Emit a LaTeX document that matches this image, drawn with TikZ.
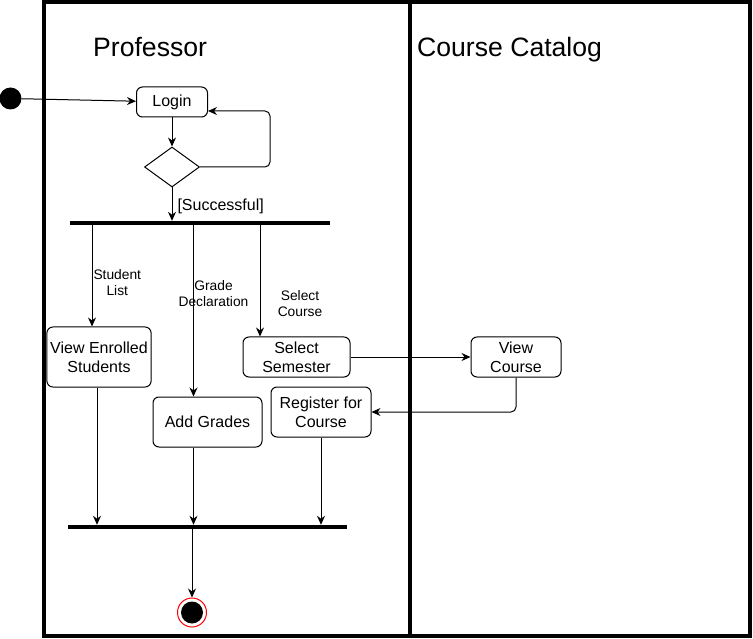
\documentclass[tikz,border=0pt]{standalone}
\usepackage{fontspec}
\setmainfont{Liberation Sans}
\usetikzlibrary{shapes.geometric, arrows.meta, positioning}
\tikzstyle{lane} = [rectangle, draw=black, line width=3.5pt, inner sep=0pt, minimum height=634pt]
\tikzstyle{lanetitle} = [anchor=base west, inner sep=0pt, font=\fontsize{26.6}{32}\selectfont]
\tikzstyle{process} = [rectangle, rounded corners=6pt, draw=black, fill=white, line width=1pt, text centered, align=center, font=\fontsize{16}{19}\selectfont]
\tikzstyle{decision} = [diamond, draw=black, fill=white, line width=1pt, minimum width=55pt, minimum height=40pt, inner sep=0pt]
\tikzstyle{bar} = [rectangle, fill=black, inner sep=0pt, minimum height=4pt]
\tikzstyle{startdot} = [circle, fill=black, minimum size=22pt, inner sep=0pt]
\tikzstyle{endring} = [circle, draw=red, fill=white, line width=1pt, minimum size=29pt, inner sep=0pt]
\tikzstyle{enddot} = [circle, fill=black, minimum size=22pt, inner sep=0pt]
\tikzstyle{edgelabel} = [align=center, inner sep=0pt, font=\fontsize{13.8}{16}\selectfont]
\tikzstyle{arrow} = [line width=1pt, ->, >={Stealth[length=9pt, width=8pt]}]

\begin{document}
\begin{tikzpicture}[x=1pt, y=-1pt, node distance=65pt]
        \useasboundingbox (0,0) rectangle (753,639);

        % Couloirs
        \node (profLane) [lane, minimum width=366pt] at (227,319) {};
        \node (catalogLane) [lane, minimum width=340pt] at (580,319) {};
        \node (profTitle) [lanetitle] at (93,57) {Professor};
        \node (catalogTitle) [lanetitle] at (417,57) {Course Catalog};

        % Professor
        \node (start) [startdot] at (10.5,98.5) {};
        \node (login) [process, minimum width=71pt, minimum height=30pt] at (172,102) {Login};
        \node (loginCheck) [decision, below of=login] {};
        \node (fork) [bar, minimum width=260pt, below of=loginCheck, xshift=27.5pt, yshift=9pt] {};

        \node (viewEnrolled) [process, minimum width=102pt, minimum height=60pt] at (99,357) {View Enrolled\\Students};
        \node (selectSemester) [process, minimum width=107pt, minimum height=40pt] at (296.5,357) {Select\\Semester};
        \node (addGrades) [process, minimum width=109pt, minimum height=50pt] at (207.5,422) {Add Grades};
        \node (register) [process, minimum width=100pt, minimum height=50pt] at (321,412) {Register for\\Course};

        \node (join) [bar, minimum width=279pt] at (207.5,527) {};
        \node (endRing) [endring] at (192,612.5) {};
        \node (endDot) [enddot] at (endRing) {};

        % Course Catalog
        \node (viewCourse) [process, minimum width=90pt, minimum height=40pt, right of=selectSemester, xshift=154.5pt] {View\\Course};

        % Arrows professor
        \draw [arrow] (start) -- (login);
        \draw [arrow] (login) -- (loginCheck);
        \draw [arrow, rounded corners=5pt] (loginCheck.east) -| ([xshift=62pt, yshift=-9pt]login.east) -- ([yshift=-9pt]login.east);
        \draw [arrow] (loginCheck.south) -- (loginCheck.south |- fork.north) node[midway, right, xshift=5pt, yshift=-2pt, edgelabel, font=\fontsize{16}{19}\selectfont] {[Successful]};

        \draw [arrow] ([xshift=-7pt]viewEnrolled.north |- fork.south) -- ([xshift=-7pt]viewEnrolled.north) node[pos=0.57, right, xshift=1pt, edgelabel] {Student\\List};
        \draw [arrow] ([xshift=-14pt]addGrades.north |- fork.south) -- ([xshift=-14pt]addGrades.north) node[pos=0.4, xshift=20pt, edgelabel] {Grade\\Declaration};
        \draw [arrow] ([xshift=-36.5pt]selectSemester.north |- fork.south) -- ([xshift=-36.5pt]selectSemester.north) node[pos=0.7, xshift=40pt, edgelabel] {Select\\Course};

        % Arrows course catalog
        \draw [arrow] (selectSemester) -- (viewCourse);
        \draw [arrow, rounded corners=5pt] (viewCourse.south) |- (register.east);

        % Arrows join
        \draw [arrow] ([xshift=-2pt]viewEnrolled.south) -- ([xshift=-2pt]viewEnrolled.south |- join.north);
        \draw [arrow] ([xshift=-14pt]addGrades.south) -- ([xshift=-14pt]addGrades.south |- join.north);
        \draw [arrow] (register.south) -- (register.south |- join.north);
        \draw [arrow] (join.south -| endRing.north) -- (endRing.north);

    \end{tikzpicture}
\end{document}
